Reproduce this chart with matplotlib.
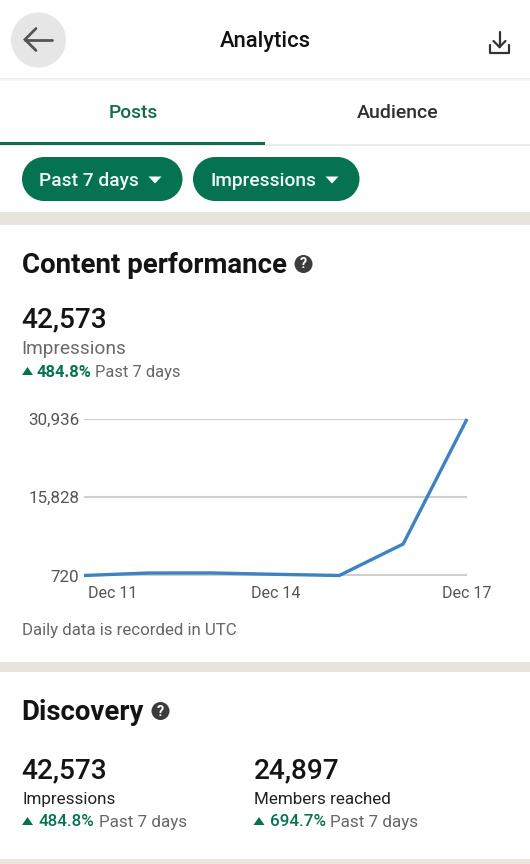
import matplotlib
matplotlib.use("Agg")
import matplotlib.pyplot as plt
from matplotlib.patches import Circle, Rectangle, Polygon

plt.rcParams['font.family'] = ['Roboto', 'DejaVu Sans']

days = ["Dec 11", "Dec 12", "Dec 13", "Dec 14", "Dec 15", "Dec 16", "Dec 17"]
impressions = [720, 1200, 1210, 950, 720, 6800, 30936]
y_ticks = [720, 15828, 30936]
x_tick_days = ["Dec 11", "Dec 14", "Dec 17"]

GREEN = "#057250"
DARK = "#1a1a1a"
GREY = "#666666"
BAND = "#e8e5df"

fig = plt.figure(figsize=(5.30, 8.64), dpi=100, facecolor="white")
ui = fig.add_axes([0, 0, 1, 1])
ui.set_xlim(0, 530)
ui.set_ylim(864, 0)
ui.axis("off")


def px(size):
    return size * 0.72


def label(x, y, s, size, color=DARK, weight="normal", ha="left"):
    return ui.text(x, y, s, fontsize=px(size), color=color, fontweight=weight,
                   ha=ha, va="center_baseline")


def tri_up(x, y, w=11, h=8):
    ui.add_patch(Polygon([(x, y + h / 2), (x + w, y + h / 2), (x + w / 2, y - h / 2)],
                         closed=True, fc=GREEN, ec="none"))


def tri_down(cx, cy, w=13, h=7):
    ui.add_patch(Polygon([(cx - w / 2, cy - h / 2), (cx + w / 2, cy - h / 2), (cx, cy + h / 2)],
                         closed=True, fc="white", ec="none"))


def help_icon(cx, cy, r=9):
    ui.add_patch(Circle((cx, cy), r, fc="#3c3c3c", ec="none"))
    ui.text(cx, cy + 0.5, "?", fontsize=px(14.5), color="white", fontweight="bold",
            ha="center", va="center")


def pill(x0, x1, y0, y1):
    r = (y1 - y0) / 2
    ui.add_patch(Rectangle((x0 + r, y0), x1 - x0 - 2 * r, y1 - y0, fc=GREEN, ec="none"))
    ui.add_patch(Circle((x0 + r, (y0 + y1) / 2), r, fc=GREEN, ec="none"))
    ui.add_patch(Circle((x1 - r, (y0 + y1) / 2), r, fc=GREEN, ec="none"))


# top bar
ui.add_patch(Rectangle((0, 78), 530, 1.2, fc="#ececec", ec="none"))
ui.add_patch(Rectangle((0, 79.2), 530, 1.5, fc="#f6f6f6", ec="none"))
ui.add_patch(Circle((38.5, 40), 27.5, fc="#e6e6e6", ec="none"))
ui.plot([25, 52], [39.5, 39.5], color="#555555", lw=2, solid_capstyle="round")
ui.plot([36, 25, 36], [28.5, 39.5, 50.5], color="#555555", lw=2,
        solid_capstyle="round", solid_joinstyle="miter")
label(265.5, 39.5, "Analytics", 22, color="#111111", weight="medium", ha="center")
ui.plot([490, 490, 509, 509], [45, 52.5, 52.5, 45], color="#333333", lw=1.6,
        solid_joinstyle="round", solid_capstyle="round")
ui.plot([499.5, 499.5], [32, 47], color="#333333", lw=1.6, solid_capstyle="round")
ui.plot([493.5, 499.5, 505.5], [41, 47, 41], color="#333333", lw=1.6,
        solid_capstyle="round", solid_joinstyle="miter")

# tabs
label(133, 111.5, "Posts", 19, color="#146a50", weight="medium", ha="center")
label(398, 111.5, "Audience", 19.5, color="#2f2f2f", weight="medium", ha="center")
ui.add_patch(Rectangle((0, 144), 530, 2, fc="#ececec", ec="none"))
ui.add_patch(Rectangle((0, 142), 265, 3, fc="#11694f", ec="none"))

# pills
pill(22, 182.5, 157, 201)
pill(193, 359.5, 157, 201)
label(39, 179.5, "Past 7 days", 19.2, color="#f0f7f4", weight="medium")
label(210, 179.5, "Impressions", 19.2, color="#f0f7f4", weight="medium")
tri_down(155, 180)
tri_down(332, 180)

# grey bands
ui.add_patch(Rectangle((0, 212), 530, 13, fc=BAND, ec="none"))
ui.add_patch(Rectangle((0, 662), 530, 10, fc=BAND, ec="none"))
ui.add_patch(Rectangle((0, 859), 530, 5, fc=BAND, ec="none"))

# content performance
label(22, 262.5, "Content performance", 27.6, color="#141414", weight="bold")
help_icon(303.5, 264)
label(21.5, 317, "42,573", 28, color="#141414", weight="medium")
label(21.5, 347.5, "Impressions", 19.2, color="#6a6a6a")
tri_up(22, 371)
label(37, 371, "484.8%", 16.5, color=GREEN, weight="bold")
label(95, 371, "Past 7 days", 16.5, color="#666666")
label(22, 629, "Daily data is recorded in UTC", 16.9, color="#666666")

# discovery
label(21.5, 710, "Discovery", 27.6, color="#141414", weight="bold")
help_icon(160.5, 711)
label(21.5, 768, "42,573", 28, color="#141414", weight="medium")
label(253.5, 768, "24,897", 28, color="#141414", weight="medium")
label(22, 798, "Impressions", 17, color="#222222")
label(254, 798, "Members reached", 17, color="#222222")
tri_up(22, 821)
label(38.5, 820.5, "484.8%", 17, color=GREEN, weight="medium")
label(99, 820.5, "Past 7 days", 17, color=GREY)
tri_up(253.5, 821)
label(270, 820.5, "694.7%", 17, color=GREEN, weight="medium")
label(330.5, 820.5, "Past 7 days", 17, color=GREY)

# chart
ax = fig.add_axes([84 / 530, 1 - 575.5 / 864, 383 / 530, 156.5 / 864])
ax.patch.set_alpha(0)
x = list(range(len(days)))
ax.set_xlim(0, len(days) - 1)
ax.set_ylim(y_ticks[0], y_ticks[-1])
for s in ax.spines.values():
    s.set_visible(False)
ax.set_yticks(y_ticks)
ylabels = ax.set_yticklabels([f"{v:,}" for v in y_ticks], fontsize=px(17), color="#555555")
for t in ylabels:
    t.set_y(t.get_position()[1])
ax.set_xticks([days.index(d) for d in x_tick_days])
xlabels = ax.set_xticklabels(x_tick_days, fontsize=px(16), color="#555555")
xlabels[0].set_ha("left")
ax.tick_params(axis="both", length=0)
ax.tick_params(axis="x", pad=7.5)
ax.tick_params(axis="y", pad=3.5)
ax.grid(axis="y", color="#cfcfcf", lw=1.5)
ax.set_axisbelow(True)
ax.plot(x, impressions, color="#3d83c2", lw=2.4, clip_on=False,
        solid_joinstyle="miter", solid_capstyle="butt")
fig.canvas.draw()
from matplotlib.transforms import ScaledTranslation
xlabels[0].set_transform(xlabels[0].get_transform() + ScaledTranslation(3.5 / 100, 0, fig.dpi_scale_trans))

fig.savefig("out.png", dpi=100, facecolor="white")
